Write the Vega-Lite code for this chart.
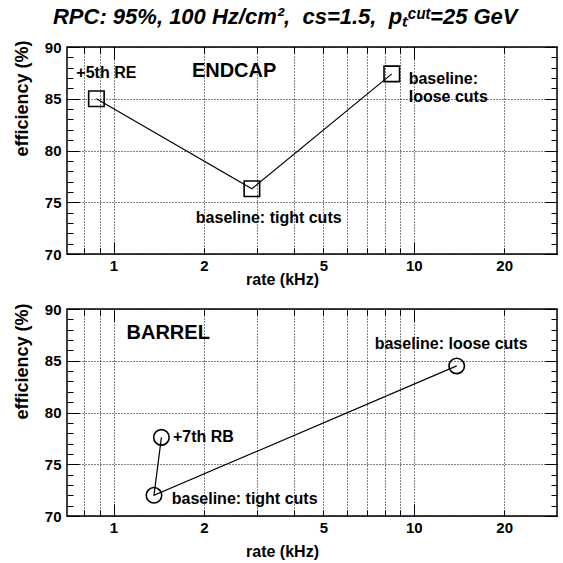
{
  "$schema": "https://vega.github.io/schema/vega-lite/v6.json",
  "padding": {"left": 12, "top": 6, "right": 5, "bottom": 5},
  "background": "white",
  "title": {"text": "RPC: 95%, 100 Hz/cm², \u00a0cs=1.5, \u00a0pₜᶜᵘᵗ=25 GeV", "font": "Liberation Sans", "fontSize": 22, "fontStyle": "italic", "fontWeight": "bold", "color": "#000", "anchor": "middle", "offset": 10},
  "datasets": {
    "endcap_pts": [{"rate": 0.877, "eff": 85.0, "o": 1}, {"rate": 2.89, "eff": 76.3, "o": 2}, {"rate": 8.45, "eff": 87.4, "o": 3}],
    "endcap_txt": [{"rate": 0.752, "eff": 87.5, "label": "+5th RE"}, {"rate": 1.88, "eff": 73.5, "label": "baseline: tight cuts"}, {"rate": 9.62, "eff": 86.9, "label": "baseline:\nloose cuts"}],
    "endcap_name": [{"rate": 1.824, "eff": 87.7, "label": "ENDCAP"}],
    "barrel_pts": [{"rate": 1.444, "eff": 77.6, "o": 1}, {"rate": 1.364, "eff": 72.0, "o": 2}, {"rate": 13.9, "eff": 84.5, "o": 3}],
    "barrel_txt": [{"rate": 1.578, "eff": 77.6, "label": "+7th RB"}, {"rate": 1.563, "eff": 71.6, "label": "baseline: tight cuts"}, {"rate": 7.41, "eff": 86.6, "label": "baseline: loose cuts"}],
    "barrel_name": [{"rate": 1.105, "eff": 87.7, "label": "BARREL"}]
  },
  "vconcat": [
    {
      "width": 490, "height": 207,
      "layer": [
        {"data": {"name": "endcap_pts"}, "mark": {"type": "line", "color": "#000", "strokeWidth": 1.2},
         "encoding": {
           "x": {"field": "rate", "type": "quantitative", "scale": {"type": "log", "domain": [0.7, 30], "nice": false},
                 "axis": {"orient": "bottom", "values": [1, 2, 5, 10, 20], "format": "~g", "ticks": false, "grid": false, "labelPadding": 4, "labelFlush": false, "title": "rate (kHz)", "titleFontSize": 16, "titleX": 215, "titleY": 25, "titleAlign": "center", "titleBaseline": "middle"}},
           "y": {"field": "eff", "type": "quantitative", "scale": {"domain": [70, 90], "nice": false, "zero": false},
                 "axis": {"orient": "left", "values": [70, 75, 80, 85, 90], "format": "d", "ticks": false, "grid": false, "labelPadding": 6, "title": "efficiency (%)", "titleX": -45, "titleY": 51, "titleAngle": 270, "titleAlign": "center", "titleBaseline": "middle"}},
           "order": {"field": "o", "type": "quantitative"}
         }},
        {"data": {"name": "endcap_pts"}, "mark": {"type": "point", "shape": "square", "size": 240, "filled": false, "color": "#000", "strokeWidth": 1.6, "opacity": 1},
         "encoding": {
           "x": {"field": "rate", "type": "quantitative", "scale": {"type": "log", "domain": [0.7, 30], "nice": false},
                 "axis": {"orient": "bottom", "values": [0.8, 0.9, 1, 2, 3, 4, 5, 6, 7, 8, 9, 10, 20], "labels": false, "ticks": true, "tickSize": -6, "grid": true, "gridDash": [1, 2], "title": null}},
           "y": {"field": "eff", "type": "quantitative", "scale": {"domain": [70, 90], "nice": false, "zero": false},
                 "axis": {"orient": "left", "values": [70, 71, 72, 73, 74, 75, 76, 77, 78, 79, 80, 81, 82, 83, 84, 85, 86, 87, 88, 89, 90], "labels": false, "ticks": true, "tickSize": -6, "grid": false, "title": null}}
         }},
        {"data": {"name": "endcap_txt"}, "mark": {"type": "text", "align": "left", "baseline": "middle", "font": "Liberation Sans", "fontWeight": "bold", "fontSize": 16, "lineBreak": "\n", "lineHeight": 18, "color": "#000"},
         "encoding": {
           "x": {"field": "rate", "type": "quantitative", "scale": {"type": "log", "domain": [0.7, 30], "nice": false},
                 "axis": {"orient": "bottom", "values": [1, 10], "labels": false, "ticks": true, "tickSize": -12, "grid": false, "title": null}},
           "y": {"field": "eff", "type": "quantitative", "scale": {"domain": [70, 90], "nice": false, "zero": false},
                 "axis": {"orient": "left", "values": [70, 75, 80, 85, 90], "labels": false, "ticks": true, "tickSize": -12, "grid": true, "gridDash": [1, 2], "title": null}},
           "text": {"field": "label"}
         }},
        {"data": {"name": "endcap_name"}, "mark": {"type": "text", "align": "left", "baseline": "middle", "font": "Liberation Sans", "fontWeight": "bold", "fontSize": 20, "color": "#000"},
         "encoding": {
           "x": {"field": "rate", "type": "quantitative", "scale": {"type": "log", "domain": [0.7, 30], "nice": false},
                 "axis": {"orient": "top", "values": [0.8, 0.9, 1, 2, 3, 4, 5, 6, 7, 8, 9, 10, 20], "labels": false, "ticks": true, "tickSize": -6, "grid": false, "title": null}},
           "y": {"field": "eff", "type": "quantitative", "scale": {"domain": [70, 90], "nice": false, "zero": false},
                 "axis": {"orient": "right", "values": [70, 71, 72, 73, 74, 75, 76, 77, 78, 79, 80, 81, 82, 83, 84, 85, 86, 87, 88, 89, 90], "labels": false, "ticks": true, "tickSize": -6, "grid": false, "title": null}},
           "text": {"field": "label"}
         }},
        {"data": {"name": "endcap_pts"}, "mark": {"type": "point", "opacity": 0},
         "encoding": {
           "x": {"field": "rate", "type": "quantitative", "scale": {"type": "log", "domain": [0.7, 30], "nice": false},
                 "axis": {"orient": "top", "values": [1, 10], "labels": false, "ticks": true, "tickSize": -12, "grid": false, "title": null}},
           "y": {"field": "eff", "type": "quantitative", "scale": {"domain": [70, 90], "nice": false, "zero": false},
                 "axis": {"orient": "right", "values": [70, 75, 80, 85, 90], "labels": false, "ticks": true, "tickSize": -12, "grid": false, "title": null}}
         }}
      ],
      "resolve": {"axis": {"x": "independent", "y": "independent"}}
    },
    {
      "width": 490, "height": 207,
      "layer": [
        {"data": {"name": "barrel_pts"}, "mark": {"type": "line", "color": "#000", "strokeWidth": 1.2},
         "encoding": {
           "x": {"field": "rate", "type": "quantitative", "scale": {"type": "log", "domain": [0.7, 30], "nice": false},
                 "axis": {"orient": "bottom", "values": [1, 2, 5, 10, 20], "format": "~g", "ticks": false, "grid": false, "labelPadding": 4, "labelFlush": false, "title": "rate (kHz)", "titleFontSize": 16, "titleX": 215, "titleY": 35, "titleAlign": "center", "titleBaseline": "middle"}},
           "y": {"field": "eff", "type": "quantitative", "scale": {"domain": [70, 90], "nice": false, "zero": false},
                 "axis": {"orient": "left", "values": [70, 75, 80, 85, 90], "format": "d", "ticks": false, "grid": false, "labelPadding": 6, "title": "efficiency (%)", "titleX": -45, "titleY": 52, "titleAngle": 270, "titleAlign": "center", "titleBaseline": "middle"}},
           "order": {"field": "o", "type": "quantitative"}
         }},
        {"data": {"name": "barrel_pts"}, "mark": {"type": "point", "shape": "circle", "size": 240, "filled": false, "color": "#000", "strokeWidth": 1.6, "opacity": 1},
         "encoding": {
           "x": {"field": "rate", "type": "quantitative", "scale": {"type": "log", "domain": [0.7, 30], "nice": false},
                 "axis": {"orient": "bottom", "values": [0.8, 0.9, 1, 2, 3, 4, 5, 6, 7, 8, 9, 10, 20], "labels": false, "ticks": true, "tickSize": -6, "grid": true, "gridDash": [1, 2], "title": null}},
           "y": {"field": "eff", "type": "quantitative", "scale": {"domain": [70, 90], "nice": false, "zero": false},
                 "axis": {"orient": "left", "values": [70, 71, 72, 73, 74, 75, 76, 77, 78, 79, 80, 81, 82, 83, 84, 85, 86, 87, 88, 89, 90], "labels": false, "ticks": true, "tickSize": -6, "grid": false, "title": null}}
         }},
        {"data": {"name": "barrel_txt"}, "mark": {"type": "text", "align": "left", "baseline": "middle", "font": "Liberation Sans", "fontWeight": "bold", "fontSize": 16, "lineBreak": "\n", "lineHeight": 18, "color": "#000"},
         "encoding": {
           "x": {"field": "rate", "type": "quantitative", "scale": {"type": "log", "domain": [0.7, 30], "nice": false},
                 "axis": {"orient": "bottom", "values": [1, 10], "labels": false, "ticks": true, "tickSize": -12, "grid": false, "title": null}},
           "y": {"field": "eff", "type": "quantitative", "scale": {"domain": [70, 90], "nice": false, "zero": false},
                 "axis": {"orient": "left", "values": [70, 75, 80, 85, 90], "labels": false, "ticks": true, "tickSize": -12, "grid": true, "gridDash": [1, 2], "title": null}},
           "text": {"field": "label"}
         }},
        {"data": {"name": "barrel_name"}, "mark": {"type": "text", "align": "left", "baseline": "middle", "font": "Liberation Sans", "fontWeight": "bold", "fontSize": 20, "color": "#000"},
         "encoding": {
           "x": {"field": "rate", "type": "quantitative", "scale": {"type": "log", "domain": [0.7, 30], "nice": false},
                 "axis": {"orient": "top", "values": [0.8, 0.9, 1, 2, 3, 4, 5, 6, 7, 8, 9, 10, 20], "labels": false, "ticks": true, "tickSize": -6, "grid": false, "title": null}},
           "y": {"field": "eff", "type": "quantitative", "scale": {"domain": [70, 90], "nice": false, "zero": false},
                 "axis": {"orient": "right", "values": [70, 71, 72, 73, 74, 75, 76, 77, 78, 79, 80, 81, 82, 83, 84, 85, 86, 87, 88, 89, 90], "labels": false, "ticks": true, "tickSize": -6, "grid": false, "title": null}},
           "text": {"field": "label"}
         }},
        {"data": {"name": "barrel_pts"}, "mark": {"type": "point", "opacity": 0},
         "encoding": {
           "x": {"field": "rate", "type": "quantitative", "scale": {"type": "log", "domain": [0.7, 30], "nice": false},
                 "axis": {"orient": "top", "values": [1, 10], "labels": false, "ticks": true, "tickSize": -12, "grid": false, "title": null}},
           "y": {"field": "eff", "type": "quantitative", "scale": {"domain": [70, 90], "nice": false, "zero": false},
                 "axis": {"orient": "right", "values": [70, 75, 80, 85, 90], "labels": false, "ticks": true, "tickSize": -12, "grid": false, "title": null}}
         }}
      ],
      "resolve": {"axis": {"x": "independent", "y": "independent"}}
    }
  ],
  "spacing": 55,
  "bounds": "flush",
  "config": {
    "view": {"stroke": "#000", "strokeWidth": 1.5},
    "axis": {"domain": false, "labelFont": "Liberation Sans", "labelFontWeight": "bold", "labelFontSize": 15, "labelColor": "#000", "titleFont": "Liberation Sans", "titleFontWeight": "bold", "titleFontSize": 18, "titleColor": "#000", "tickColor": "#000", "tickWidth": 1, "gridColor": "#000", "gridWidth": 1, "gridOpacity": 1}
  }
}
